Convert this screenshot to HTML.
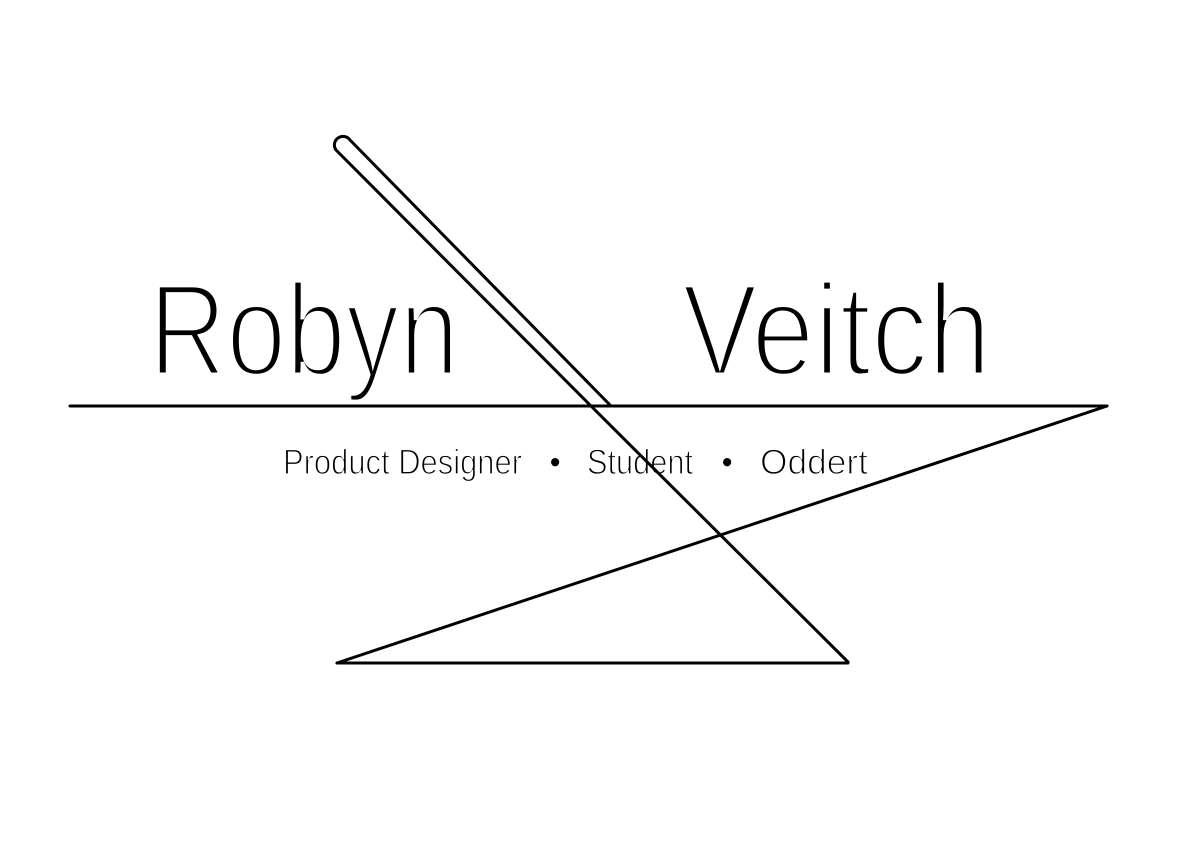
<!DOCTYPE html>
<html><head><meta charset="utf-8"><style>
html,body{margin:0;padding:0;background:#fff;}
svg{display:block;}
text{font-family:"Liberation Sans",sans-serif;fill:#000;stroke:#fff;}
.big{stroke-width:5px;}
.small{stroke-width:1.2px;}
</style></head><body>
<svg width="1191" height="842" viewBox="0 0 1191 842">
  <rect width="1191" height="842" fill="#fff"/>
  <text class="big" x="149" y="375" font-size="131" textLength="310" lengthAdjust="spacingAndGlyphs">Robyn</text>
  <text class="big" x="682" y="375" font-size="131" textLength="309" lengthAdjust="spacingAndGlyphs">Veitch</text>
  <text class="small" x="283" y="474" font-size="35" textLength="239" lengthAdjust="spacingAndGlyphs">Product Designer</text>
  <text class="small" x="549" y="474" font-size="35">•</text>
  <text class="small" x="587" y="474" font-size="35" textLength="106" lengthAdjust="spacingAndGlyphs">Student</text>
  <text class="small" x="721" y="474" font-size="35">•</text>
  <text class="small" x="760" y="474" font-size="35" textLength="108" lengthAdjust="spacingAndGlyphs">Oddert</text>
  <g fill="none" stroke="#000" stroke-width="3" stroke-linecap="round" stroke-linejoin="round">
    <path d="M610,405 L350,140 A7,7 0 0 0 336,150 L590,405 L848,662"/>
    <line x1="70" y1="406" x2="1107" y2="406"/>
    <line x1="1107" y1="406" x2="337" y2="663"/>
    <line x1="337" y1="663" x2="848" y2="663"/>
  </g>
</svg>
</body></html>
